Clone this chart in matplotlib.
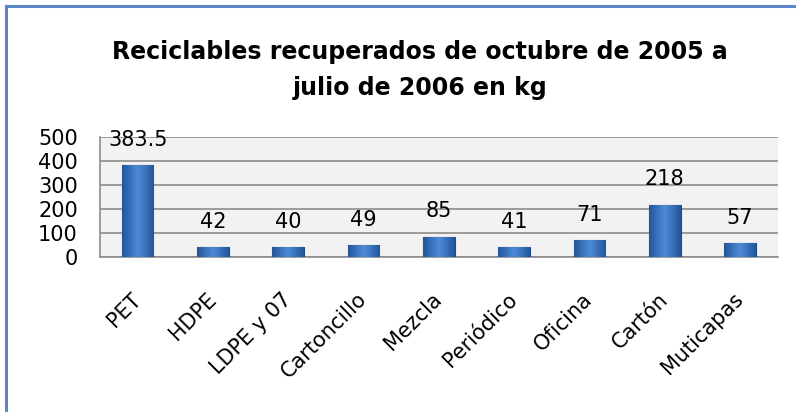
import numpy as np
import matplotlib.pyplot as plt
from matplotlib.colors import LinearSegmentedColormap
from matplotlib.lines import Line2D
from matplotlib.transforms import ScaledTranslation

categories = ['PET', 'HDPE', 'LDPE y 07', 'Cartoncillo', 'Mezcla',
              'Periódico', 'Oficina', 'Cartón', 'Muticapas']
values = [383.5, 42, 40, 49, 85, 41, 71, 218, 57]
value_labels = ['383.5', '42', '40', '49', '85', '41', '71', '218', '57']
y_ticks = [0, 100, 200, 300, 400, 500]

plt.rcParams['font.family'] = ['DejaVu Sans']

fig = plt.figure(figsize=(7.96, 4.12), dpi=100)
ax = fig.add_axes([0.1256, 0.376, 0.8514, 0.2915])
ax.set_facecolor('#f2f2f2')

x = np.arange(len(categories))
bars = ax.bar(x, values, width=0.42, color='#3f78c4', edgecolor='#1f4a85',
              linewidth=0.8, zorder=3)

# horizontal gradient inside each bar to mimic the bevelled look
bevel = LinearSegmentedColormap.from_list('bev', ['#23569b', '#4f8ad6'])
grad = np.linspace(0, 1, 64)
grad = 1 - np.abs(grad - 0.5) * 2
grad = np.tile(grad, (2, 1))
for b in bars:
    x0, w, h = b.get_x(), b.get_width(), b.get_height()
    im = ax.imshow(grad, cmap=bevel, extent=[x0, x0 + w, 0, h],
                   aspect='auto', zorder=3.5, interpolation='bicubic')
    im.set_clip_path(b)

for xi, v, lab in zip(x, values, value_labels):
    ax.annotate(lab, (xi, v), xytext=(0, 11), textcoords='offset points',
                ha='center', va='bottom', fontsize=15, color='black',
                annotation_clip=False)

ax.set_xlim(-0.5, len(categories) - 0.5)
ax.set_ylim(0, 500)
ax.set_yticks(y_ticks)
ax.set_yticklabels([str(t) for t in y_ticks], fontsize=15)
ax.set_xticks(x)
ax.set_xticklabels(categories, rotation=45, ha='right', rotation_mode='anchor',
                   fontsize=15)
ax.tick_params(length=0, pad=16)
ax.tick_params(axis='x', pad=23)
shift = ScaledTranslation(-5 / 72, 0, fig.dpi_scale_trans)
for lbl in ax.get_xticklabels():
    lbl.set_transform(lbl.get_transform() + shift)
ax.grid(axis='y', color='#8c8c8c', linewidth=1.2, zorder=1)
for s in ['top', 'right']:
    ax.spines[s].set_visible(False)
ax.spines['left'].set_color('#8c8c8c')
ax.spines['bottom'].set_color('#8c8c8c')
ax.spines['left'].set_linewidth(1.2)
ax.spines['bottom'].set_linewidth(1.2)

fig.text(0.528, 0.830, 'Reciclables recuperados de octubre de 2005 a\njulio de 2006 en kg',
         ha='center', va='center', fontsize=17, fontweight='bold',
         linespacing=1.65)

# chart frame (left and top edges only visible)
fig.add_artist(Line2D([5.5 / 796, 5.5 / 796], [0, 1 - 5.5 / 412],
                      transform=fig.transFigure, color='#5b87c8', linewidth=2.2))
fig.add_artist(Line2D([5.5 / 796, 1], [1 - 5.5 / 412, 1 - 5.5 / 412],
                      transform=fig.transFigure, color='#5b87c8', linewidth=2.2))

fig.savefig('out.png', dpi=100)
